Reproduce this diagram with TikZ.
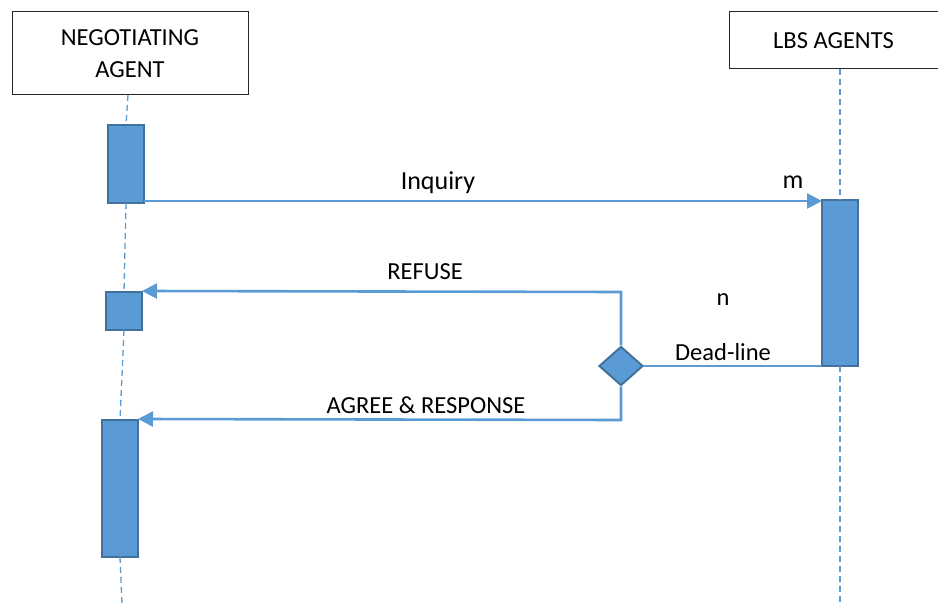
\documentclass[tikz,border=0pt]{standalone}
\usepackage{fontspec}
\setmainfont{Carlito}
\usetikzlibrary{arrows.meta,shapes.geometric}
\definecolor{bfill}{HTML}{5B9BD5}
\definecolor{bdark}{HTML}{41719C}
\tikzset{
  actor/.style={draw=black!85, line width=1pt, fill=white, inner sep=0pt, outer sep=0pt, align=center, font=\fontsize{24.5}{30}\selectfont},
  act/.style={draw=bdark, fill=bfill, line width=2pt, inner sep=0pt, outer sep=0pt},
  life/.style={draw=bfill, line width=1.3pt, dash pattern=on 6pt off 4pt},
  msg/.style={draw=bfill, line width=2.6pt, line join=miter, -{Triangle[length=15pt,width=15pt]}},
  plain/.style={draw=bfill, line width=2pt},
  lbl/.style={inner sep=0pt, font=\fontsize{24.5}{29}\selectfont},
  biglbl/.style={inner sep=0pt, font=\fontsize{26}{30}\selectfont},
  dec/.style={diamond, draw=bdark, fill=bfill, line width=2pt, inner sep=0pt, minimum width=44pt, minimum height=39pt, aspect=1.1}
}
\begin{document}
\begin{tikzpicture}[x=1pt,y=-1pt]
\useasboundingbox (0,0) rectangle (938,604);
% actors
\node[actor, minimum width=236pt, minimum height=83pt] (na) at (130,53.5) {NEGOTIATING\\[2pt]AGENT};
\node[actor, minimum width=209pt, minimum height=57pt] (lbs) at (833.5,40.5) {LBS AGENTS};
% activations
\node[act, minimum width=36pt, minimum height=78pt] (a1) at (126,164) {};
\node[act, minimum width=36pt, minimum height=38pt] (a2) at (124,311) {};
\node[act, minimum width=36pt, minimum height=137pt] (a3) at (120,488.5) {};
\node[act, minimum width=36pt, minimum height=166pt] (r1) at (840,283) {};
% lifeline coordinates
\coordinate (lbot) at (122,604);
\coordinate (rbot) at (840,604);
% lifelines
\draw[life] (128,95) coordinate (n1) -- (a1.north);
\draw[life] (a1.south) -- (a2.north);
\draw[life] (a2.south) -- (a3.north);
\draw[life] (a3.south) -- (lbot);
\draw[life] (lbs.south -| r1.north) -- (r1.north);
\draw[life] (r1.south) -- (rbot);
% decision
\node[dec] (d) at (621,366) {};
% messages
\draw[msg] (a1.south east) ++(0,-2) coordinate (inq) -- (r1.north west |- inq);
\node[biglbl] (inqlbl) at (438,183) {Inquiry};
\node[biglbl] (mlbl) at (793,182) {m};
\coordinate (rc) at (d.north |- a2.north);
\draw[msg] (d.north) -- (rc) -- ([yshift=1pt]a2.north east);
\node[lbl] (reflbl) at (425,272) {REFUSE};
\draw[plain, line width=1.5pt] (d.east) -- (r1.south west |- d.east);
\node[lbl] (dl) at (723,352) {Dead-line};
\node[lbl] (nl) at (723,300) {n};
\coordinate (ac) at (d.south |- a3.north);
\draw[msg] (d.south) -- (ac) -- ([yshift=1pt]a3.north east);
\node[lbl] (agl) at (426,405) {AGREE \& RESPONSE};
\end{tikzpicture}
\end{document}
